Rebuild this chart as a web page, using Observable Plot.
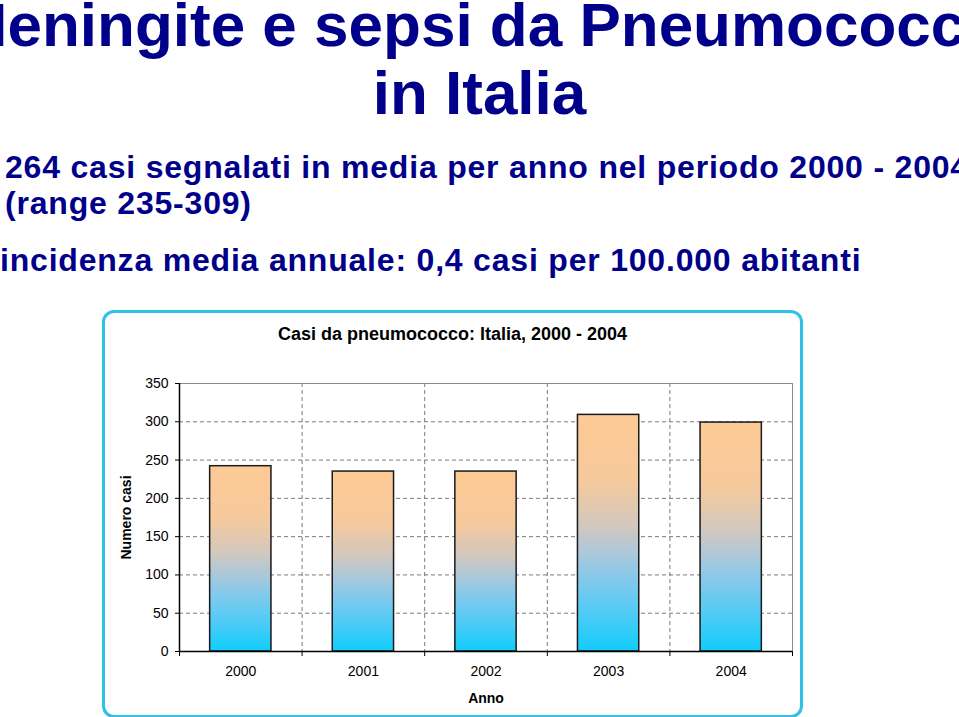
<!DOCTYPE html>
<html>
<head>
<meta charset="utf-8">
<script src="https://cdn.jsdelivr.net/npm/d3@7"></script>
<script src="https://cdn.jsdelivr.net/npm/@observablehq/plot@0.6"></script>
<style>
html, body { margin: 0; padding: 0; background: #fff; }
body { width: 959px; height: 717px; overflow: hidden; position: relative; font-family: "Liberation Sans", Arial, sans-serif; }
.t { position: absolute; white-space: nowrap; color: #00008b; font-weight: bold; line-height: 1; }
.big { font-size: 62px; left: 479.5px; transform: translateX(-50%); }
.sub { font-size: 32px; letter-spacing: 0.8px; }
#box { position: absolute; left: 102px; top: 310px; width: 695px; height: 402px; border: 3px solid #30c0e8; border-radius: 12px; }
#ctitle { position: absolute; left: 102px; width: 701px; top: 325px; text-align: center; font-size: 18px; font-weight: bold; line-height: 1; color: #000; white-space: nowrap; }
#chart { position: absolute; left: 102px; top: 350px; }
#chart svg { display: block; overflow: visible; }
</style>
</head>
<body>
<div class="t big" id="l1" style="top:-6.5px"></div>
<div class="t big" id="l2" style="top:61.5px"></div>
<div class="t sub" id="s1" style="top:151px; left:5px"></div>
<div class="t sub" id="s2" style="top:187px; left:5px"></div>
<div class="t sub" id="s3" style="top:244px; left:0px"></div>
<div id="box"></div>
<div id="ctitle"></div>
<div id="chart"></div>
<script>
// ---- text ----
const headline = ["Meningite e sepsi da Pneumococco", "in Italia"];
const subLines = [
  "264 casi segnalati in media per anno nel periodo 2000 - 2004",
  "(range 235-309)",
  "incidenza media annuale: 0,4 casi per 100.000 abitanti"
];
const chartTitle = "Casi da pneumococco: Italia, 2000 - 2004";
const xLabel = "Anno";
const yLabel = "Numero casi";

// ---- data ----
const years = [2000, 2001, 2002, 2003, 2004];
const cases = [242, 235, 235, 309, 299];
const yTicks = [0, 50, 100, 150, 200, 250, 300, 350];

document.getElementById("l1").textContent = headline[0];
document.getElementById("l2").textContent = headline[1];
document.getElementById("s1").textContent = subLines[0];
document.getElementById("s2").textContent = subLines[1];
document.getElementById("s3").textContent = subLines[2];
document.getElementById("ctitle").textContent = chartTitle;

const data = years.map((year, i) => ({year, value: cases[i]}));
const boundaries = [...years.map(y => y - 0.5), years[years.length - 1] + 0.5];
const grid = {stroke: "#7a7a7a", strokeOpacity: 1, strokeDasharray: "4,3", strokeWidth: 1};

const plot = Plot.plot({
  width: 701,
  height: 367,
  marginLeft: 77,
  marginRight: 11,
  marginTop: 33,
  marginBottom: 66,
  style: {fontFamily: "'Liberation Sans', Arial, sans-serif", fontSize: "14px", color: "#000", background: "transparent"},
  x: {type: "linear", domain: [boundaries[0], boundaries[boundaries.length - 1]]},
  y: {domain: [yTicks[0], yTicks[yTicks.length - 1]]},
  marks: [
    Plot.gridY(yTicks.slice(1, -1), grid),
    Plot.gridX(boundaries.slice(1, -1), grid),
    Plot.frame({stroke: "#8a8a8a"}),
    Plot.rectY(data, {
      x1: d => d.year - 0.25,
      x2: d => d.year + 0.25,
      y: "value",
      fill: "url(#barGrad)",
      stroke: "#1a1a1a",
      strokeWidth: 1.5
    }),
    Plot.ruleY([yTicks[0]], {stroke: "#000", strokeWidth: 1.5}),
    Plot.ruleX([boundaries[0]], {stroke: "#000", strokeWidth: 1.5}),
    Plot.axisX(years, {tickSize: 0, tickPadding: 15, tickFormat: d => String(d), label: null, fontSize: 14}),
    Plot.axisX(boundaries, {tickSize: 5, tickFormat: () => "", label: null}),
    Plot.axisX([], {label: xLabel, labelAnchor: "center", labelOffset: 51, labelArrow: "none", fontWeight: "bold", fontSize: 14, tickSize: 0}),
    Plot.axisY(yTicks, {tickSize: 4, tickPadding: 7, tickFormat: d => String(d), label: null, fontSize: 14}),
    Plot.axisY([], {label: yLabel, labelAnchor: "center", labelOffset: 58, labelArrow: "none", fontWeight: "bold", fontSize: 14, tickSize: 0})
  ]
});

const ns = "http://www.w3.org/2000/svg";
const defs = document.createElementNS(ns, "defs");
defs.innerHTML =
  '<linearGradient id="barGrad" x1="0" y1="0" x2="0" y2="1">' +
  '<stop offset="0" stop-color="#fdca94"/>' +
  '<stop offset="0.28" stop-color="#f6c99c"/>' +
  '<stop offset="0.47" stop-color="#d2c8be"/>' +
  '<stop offset="0.57" stop-color="#b2c8d6"/>' +
  '<stop offset="0.7" stop-color="#82c9ec"/>' +
  '<stop offset="0.85" stop-color="#4ccbf6"/>' +
  '<stop offset="1" stop-color="#10cdfc"/>' +
  '</linearGradient>';
plot.insertBefore(defs, plot.firstChild);
document.getElementById("chart").appendChild(plot);
</script>
</body>
</html>
